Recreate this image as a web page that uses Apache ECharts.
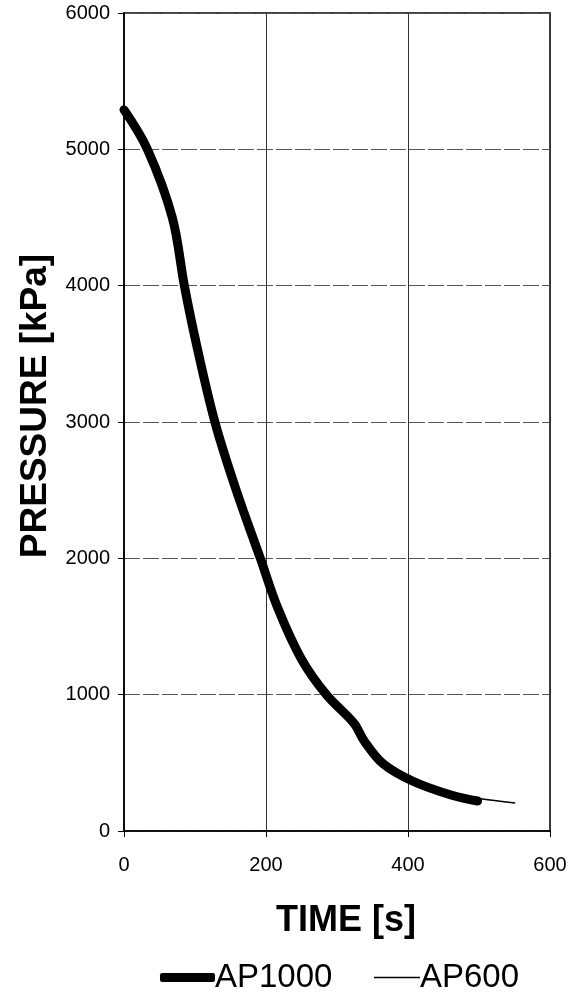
<!DOCTYPE html>
<html>
<head>
<meta charset="utf-8">
<script src="https://cdn.jsdelivr.net/npm/echarts@6/dist/echarts.min.js"></script>
<style>
html,body{margin:0;padding:0;background:#fff;}
#chart{width:578px;height:998px;}
</style>
</head>
<body>
<div id="chart"></div>
<script>
// Data (time in s, pressure in kPa)
var ap1000Time = [0, 33, 68, 85, 102, 128, 158, 192, 217, 250, 285, 324, 338, 365, 407, 463, 498];
var ap1000Pressure = [5290, 5000, 4500, 4000, 3570, 3000, 2500, 2000, 1630, 1260, 1000, 790, 663, 493, 365, 260, 220];
var ap600Time = [0, 33, 68, 85, 102, 128, 158, 192, 217, 250, 285, 324, 338, 365, 407, 463, 500, 551];
var ap600Pressure = [5290, 5000, 4500, 4000, 3570, 3000, 2500, 2000, 1630, 1260, 1000, 790, 663, 493, 370, 275, 238, 205];
var xTicks = [0, 200, 400, 600];
var yTicks = [0, 1000, 2000, 3000, 4000, 5000, 6000];

function pairs(xs, ys) { return xs.map(function (x, i) { return [x, ys[i]]; }); }

var font = 'Liberation Sans, Arial, sans-serif';
var chart = echarts.init(document.getElementById('chart'), null, {renderer: 'canvas'});
chart.setOption({
  backgroundColor: '#fff',
  animation: false,
  grid: {left: 124, right: 28, top: 13, bottom: 167, containLabel: false, outerBoundsMode: 'none',
         show: true, borderColor: '#000', borderWidth: 1.5, backgroundColor: 'transparent'},
  xAxis: {
    type: 'value', min: xTicks[0], max: xTicks[xTicks.length - 1], interval: 200,
    name: 'TIME [s]', nameLocation: 'middle', nameGap: 72,
    nameTextStyle: {fontFamily: font, fontSize: 36, fontWeight: 'bold', color: '#000', padding: [0, 0, 0, 18]},
    axisLine: {show: true, lineStyle: {color: '#000', width: 1.5}},
    axisTick: {show: true, inside: false, length: 6, lineStyle: {color: '#000', width: 1}},
    axisLabel: {margin: 24, fontFamily: font, fontSize: 20, color: '#000', formatter: function (v) { return String(v); }},
    splitLine: {show: true, lineStyle: {color: '#333', width: 1}}
  },
  yAxis: {
    type: 'value', min: yTicks[0], max: yTicks[yTicks.length - 1], interval: 1000,
    name: 'PRESSURE [kPa]', nameLocation: 'middle', nameGap: 68,
    nameTextStyle: {fontFamily: font, fontSize: 37, fontWeight: 'bold', color: '#000', padding: [0, 0, 0, 32]},
    axisLine: {show: true, lineStyle: {color: '#000', width: 1.5}},
    axisTick: {show: true, inside: false, length: 6, lineStyle: {color: '#000', width: 1}},
    axisLabel: {margin: 14, fontFamily: font, fontSize: 20, color: '#000', formatter: function (v) { return String(v); }},
    splitLine: {show: true, lineStyle: {color: '#555', width: 1, type: [16, 3]}}
  },
  legend: [
    {data: [{name: 'AP1000', icon: 'roundRect'}], left: 155, top: 956, itemWidth: 55, itemHeight: 9, itemGap: 0,
     itemStyle: {color: '#000'},
     textStyle: {fontFamily: font, fontSize: 33, color: '#000', padding: [0, 0, 0, -5]}},
    {data: [{name: 'AP600', icon: 'rect'}], left: 369, top: 956, itemWidth: 46, itemHeight: 1.5, itemGap: 0,
     itemStyle: {color: '#000'},
     textStyle: {fontFamily: font, fontSize: 33, color: '#000', padding: [0, 0, 0, -5]}}
  ],
  series: [
    {name: 'AP600', type: 'line', data: pairs(ap600Time, ap600Pressure), symbol: 'none', smooth: 0.35,
     color: '#000', lineStyle: {color: '#000', width: 1.5}, z: 2},
    {name: 'AP1000', type: 'line', data: pairs(ap1000Time, ap1000Pressure), symbol: 'none', smooth: 0.35,
     color: '#000', lineStyle: {color: '#000', width: 9, cap: 'round', join: 'round'}, z: 3}
  ]
});
</script>
</body>
</html>
